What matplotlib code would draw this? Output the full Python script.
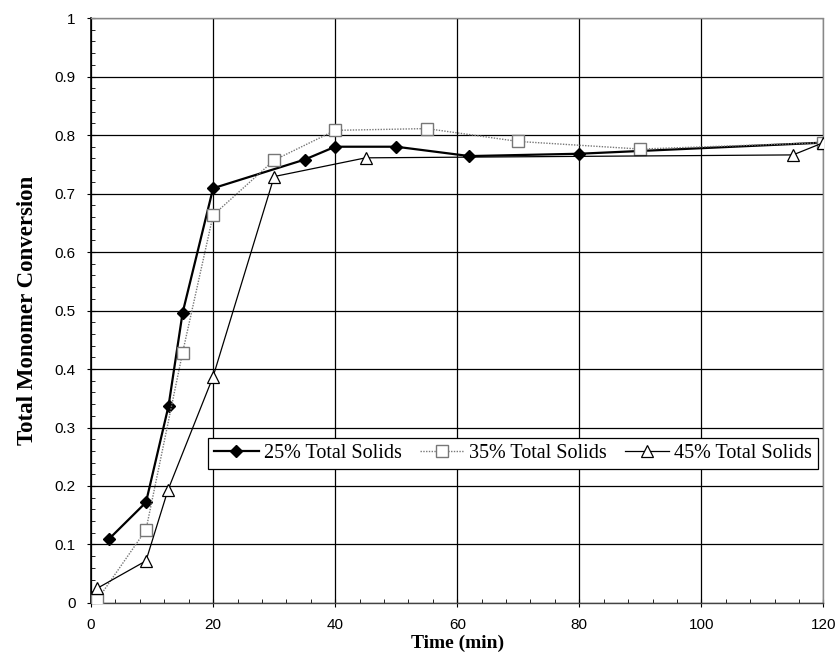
import matplotlib
matplotlib.use("Agg")
import matplotlib.pyplot as plt
from matplotlib.ticker import MultipleLocator

# Data
t25 = [3, 9, 12.7, 15, 20, 35, 40, 50, 62, 80, 120]
c25 = [0.11, 0.172, 0.337, 0.496, 0.709, 0.758, 0.780, 0.780, 0.764, 0.768, 0.787]

t35 = [1, 9, 15, 20, 30, 40, 55, 70, 90, 120]
c35 = [0.005, 0.125, 0.428, 0.663, 0.757, 0.808, 0.811, 0.789, 0.776, 0.787]

t45 = [1, 9, 12.6, 20, 30, 45, 115, 120]
c45 = [0.025, 0.072, 0.193, 0.387, 0.729, 0.761, 0.766, 0.787]

labels = ["25% Total Solids", "35% Total Solids", "45% Total Solids"]
xticks = [0, 20, 40, 60, 80, 100, 120]
yticks = [0, 0.1, 0.2, 0.3, 0.4, 0.5, 0.6, 0.7, 0.8, 0.9, 1]
ytick_labels = ["0", "0.1", "0.2", "0.3", "0.4", "0.5", "0.6", "0.7", "0.8", "0.9", "1"]

fig = plt.figure(figsize=(8.39, 6.58), dpi=100)
ax = fig.add_axes([0.1085, 0.0836, 0.873, 0.889])

ax.plot(t25, c25, color="black", lw=1.6, marker="D", ms=6.5,
        mfc="black", mec="black", label=labels[0], zorder=3)
ax.plot(t35, c35, color="#777777", lw=1.0, ls=(0, (1, 1)), marker="s", ms=8,
        mfc="white", mec="#777777", mew=1.0, label=labels[1], zorder=4)
ax.plot(t45, c45, color="black", lw=0.9, marker="^", ms=9,
        mfc="white", mec="black", mew=0.9, label=labels[2], zorder=5)

ax.set_xlim(0, 120)
ax.set_ylim(0, 1)
ax.set_xticks(xticks)
ax.set_yticks(yticks)
ax.set_yticklabels(ytick_labels)
ax.xaxis.set_minor_locator(MultipleLocator(4))
ax.yaxis.set_minor_locator(MultipleLocator(0.02))
ax.grid(True, which="major", color="black", lw=0.9)
ax.set_axisbelow(True)

for lab in ax.get_xticklabels() + ax.get_yticklabels():
    lab.set_family("Liberation Sans")
    lab.set_fontsize(11)
ax.tick_params(which="major", direction="inout", length=6, width=0.8, pad=8)
ax.tick_params(which="minor", direction="in", length=3, width=0.6)

ax.spines["left"].set_color("black")
ax.spines["left"].set_linewidth(1.2)
ax.spines["bottom"].set_color("#444444")
ax.spines["bottom"].set_linewidth(1.0)
for s in ["top", "right"]:
    ax.spines[s].set_color("#888888")
    ax.spines[s].set_linestyle((0, (1, 1)))
    ax.spines[s].set_linewidth(1.0)

ax.set_xlabel("Time (min)", family="Liberation Serif", fontweight="bold", fontsize=14, labelpad=2)
ax.set_ylabel("Total Monomer Conversion", family="Liberation Serif", fontweight="bold", fontsize=16.5, labelpad=12)

leg = ax.legend(loc="upper left", bbox_to_anchor=(0.16, 0.282), ncol=3,
                prop={"family": "Liberation Serif", "size": 14.5},
                frameon=True, fancybox=False, edgecolor="black", framealpha=1,
                borderpad=0.3, handlelength=2.2, handletextpad=0.25, columnspacing=0.9,
                borderaxespad=0)
leg.get_frame().set_linewidth(0.9)
leg.set_zorder(10)

fig.savefig("out.png", dpi=100)
